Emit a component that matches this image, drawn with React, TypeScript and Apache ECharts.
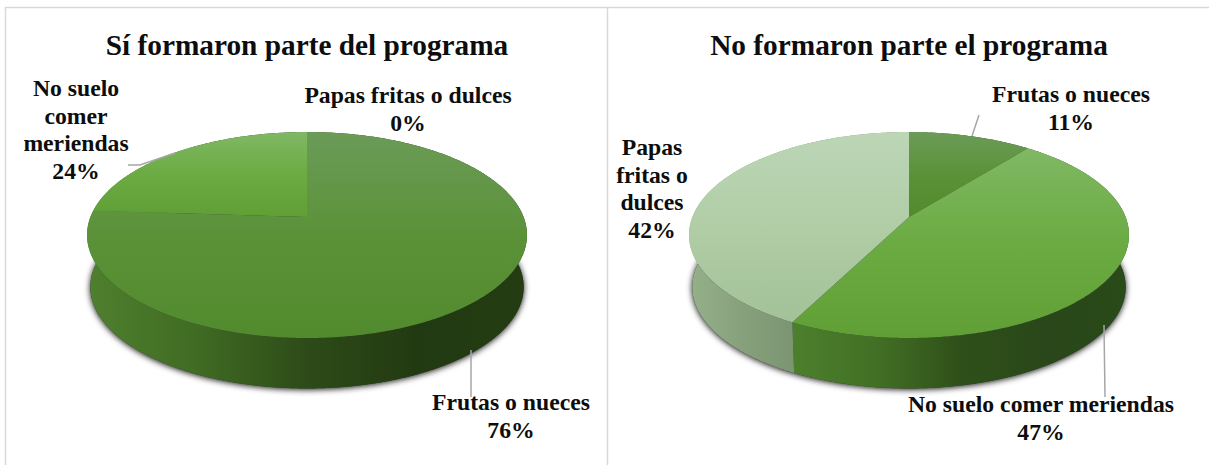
import React, { useEffect, useRef } from "react";
import * as echarts from "echarts";

// ---- data ----
const categoriesLeft = ["Frutas o nueces", "Papas fritas o dulces", "No suelo comer meriendas"];
const valuesLeft = [76, 0, 24];
const labelLeft = ["Frutas o nueces", "Papas fritas o dulces", "No suelo\ncomer\nmeriendas"];
const titleLeft = "Sí formaron parte del programa";

const categoriesRight = ["Frutas o nueces", "No suelo comer meriendas", "Papas fritas o dulces"];
const valuesRight = [10.7, 46.81, 42.49];
const labelRight = ["Frutas o nueces", "No suelo comer meriendas", "Papas\nfritas o\ndulces"];
const titleRight = "No formaron parte el programa";

// ---- layout & style ----
const W = 1209;
const H = 465;
const APEX_Y = 217;
const ELLIPSE_Y = 235;
const BOTTOM_Y = 287;
const PERSP = 0.1748;
const SCALE_Y = 99.85;
const SCALE_X = 216.6;
const BOTTOM_SHRINK = 0.985;
const LABEL_LH = 27.5;
const FONT = '"Liberation Serif", "Times New Roman", serif';

const labelPosLeft = [[511, 402], [408, 95], [76, 88]];
const labelPosRight = [[1071, 94], [1041, 404], [652, 147]];
const leadersLeft = [
  [[471, 350], [471, 397]],
  [[128, 165], [140, 165], [175, 153]],
];
const leadersRight = [
  [[979, 115], [972, 136]],
  [[1104, 325], [1105, 397]],
];

const TOP_STYLE: Record<string, string[]> = {
  "Frutas o nueces": ["#6b9b58", "#5b9238", "#528a2e"],
  "No suelo comer meriendas": ["#80b864", "#6bab42", "#5f9f35"],
  "Papas fritas o dulces": ["#bcd6b6", "#b0cda6", "#a3c298"],
};
const WALL_STYLE: Record<string, string[]> = {
  "Frutas o nueces": ["#4f802e", "#406b23", "#2d4b18", "#223a11", "#233c12"],
  "No suelo comer meriendas": ["#4c802c", "#426f25", "#2f5019", "#29471a", "#2a4a18"],
  "Papas fritas o dulces": ["#94b18a", "#86a07c", "#7a9370", "#7a9370", "#7a9370"],
};

function top(cx: number, deg: number) {
  const t = (deg * Math.PI) / 180;
  const u = Math.sin(t);
  const v = Math.cos(t);
  const d = 1 + PERSP * v;
  return [cx + (u * SCALE_X) / d, APEX_Y - (v * SCALE_Y) / d];
}
function bottom(cx: number, deg: number) {
  const p = top(cx, deg);
  return [cx + (p[0] - cx) * BOTTOM_SHRINK, BOTTOM_Y + (p[1] - ELLIPSE_Y) * BOTTOM_SHRINK];
}
function arc(cx: number, a: number, b: number, f: (c: number, d: number) => number[]) {
  const n = Math.max(2, Math.ceil((b - a) * 2));
  const pts: number[][] = [];
  for (let i = 0; i <= n; i++) pts.push(f(cx, a + ((b - a) * i) / n));
  return pts;
}
function grad(horizontal: boolean, cols: string[]) {
  return new echarts.graphic.LinearGradient(
    0, 0, horizontal ? 1 : 0, horizontal ? 0 : 1,
    cols.map((color, i) => ({ offset: i / (cols.length - 1), color }))
  );
}

function pieSeries(cx: number, names: string[], values: number[], labels: string[], pos: number[][], leaders: number[][][]) {
  const total = values.reduce((a, b) => a + b, 0);
  const range = (i: number) => {
    const before = values.slice(0, i).reduce((a, b) => a + b, 0);
    return [(before / total) * 360, ((before + values[i]) / total) * 360];
  };
  const data = names.map((name, i) => ({ name, value: values[i] }));
  return [
    {
      // soft shadow under the whole pie
      type: "custom", coordinateSystem: "none", z: 1, data: [total], silent: true,
      renderItem: () => ({
        type: "polygon",
        shape: { points: arc(cx, 0, 360, bottom) },
        style: { fill: "#333333", shadowBlur: 6, shadowOffsetY: 1, shadowColor: "rgba(0,0,0,0.95)" },
      }),
    },
    {
      type: "custom", coordinateSystem: "none", z: 2, data, silent: true,
      renderItem: (p: any) => {
        const i = p.dataIndex;
        const [a, b] = range(i);
        if (b <= a) return { type: "group", children: [] };
        const points = [...arc(cx, a, b, top), ...arc(cx, a, b, bottom).reverse()];
        return {
          type: "polygon",
          shape: { points },
          style: { fill: grad(true, WALL_STYLE[names[i]]) },
        };
      },
    },
    {
      type: "custom", coordinateSystem: "none", z: 3, data, silent: true,
      renderItem: (p: any) => {
        const i = p.dataIndex;
        const [a, b] = range(i);
        const children: any[] = [];
        if (b > a) {
          children.push({
            type: "polygon",
            shape: { points: [[cx, APEX_Y], ...arc(cx, a, b, top)] },
            style: { fill: grad(false, TOP_STYLE[names[i]]) },
          });
        }
        children.push({
          type: "text",
          z2: 10,
          x: pos[i][0],
          y: pos[i][1] - LABEL_LH / 2,
          style: {
            text: `${labels[i]}\n${Math.round(values[i])}%`,
            font: `bold 23.7px ${FONT}`,
            fill: "#0d0d0d",
            align: "center",
            verticalAlign: "top",
            lineHeight: LABEL_LH,
          },
        });
        return { type: "group", children };
      },
    },
    {
      type: "custom", coordinateSystem: "none", z: 4, data: leaders.map((_, i) => i), silent: true,
      renderItem: (p: any) => ({
        type: "polyline",
        shape: { points: leaders[p.dataIndex] },
        style: { stroke: "#a6a6a6", lineWidth: 1.5, fill: "none" },
      }),
    },
  ];
}

export default function App() {
  const ref = useRef<HTMLDivElement>(null);
  useEffect(() => {
    const chart = echarts.init(ref.current!, undefined, { renderer: "svg" });
    const titleStyle = { fontFamily: FONT, fontWeight: "bold" as const, fontSize: 29.3, color: "#0d0d0d" };
    chart.setOption({
      animation: false,
      backgroundColor: "#ffffff",
      title: [
        { text: titleLeft, left: 302, top: 25, textAlign: "center", textStyle: titleStyle },
        { text: titleRight, left: 904, top: 25, textAlign: "center", textStyle: titleStyle },
      ],
      graphic: [
        { type: "line", shape: { x1: 5, y1: 7.5, x2: W, y2: 7.5 }, style: { stroke: "#d9d9d9", lineWidth: 1.5 } },
        { type: "line", shape: { x1: 5.5, y1: 7, x2: 5.5, y2: H }, style: { stroke: "#d9d9d9", lineWidth: 1.5 } },
        { type: "line", shape: { x1: 607.5, y1: 7, x2: 607.5, y2: H }, style: { stroke: "#d9d9d9", lineWidth: 1.5 } },
      ],
      series: [
        ...pieSeries(307, categoriesLeft, valuesLeft, labelLeft, labelPosLeft, leadersLeft),
        ...pieSeries(909, categoriesRight, valuesRight, labelRight, labelPosRight, leadersRight),
      ],
    });
    return () => chart.dispose();
  }, []);
  return <div ref={ref} style={{ position: "fixed", left: 0, top: 0, width: W, height: H }} />;
}
